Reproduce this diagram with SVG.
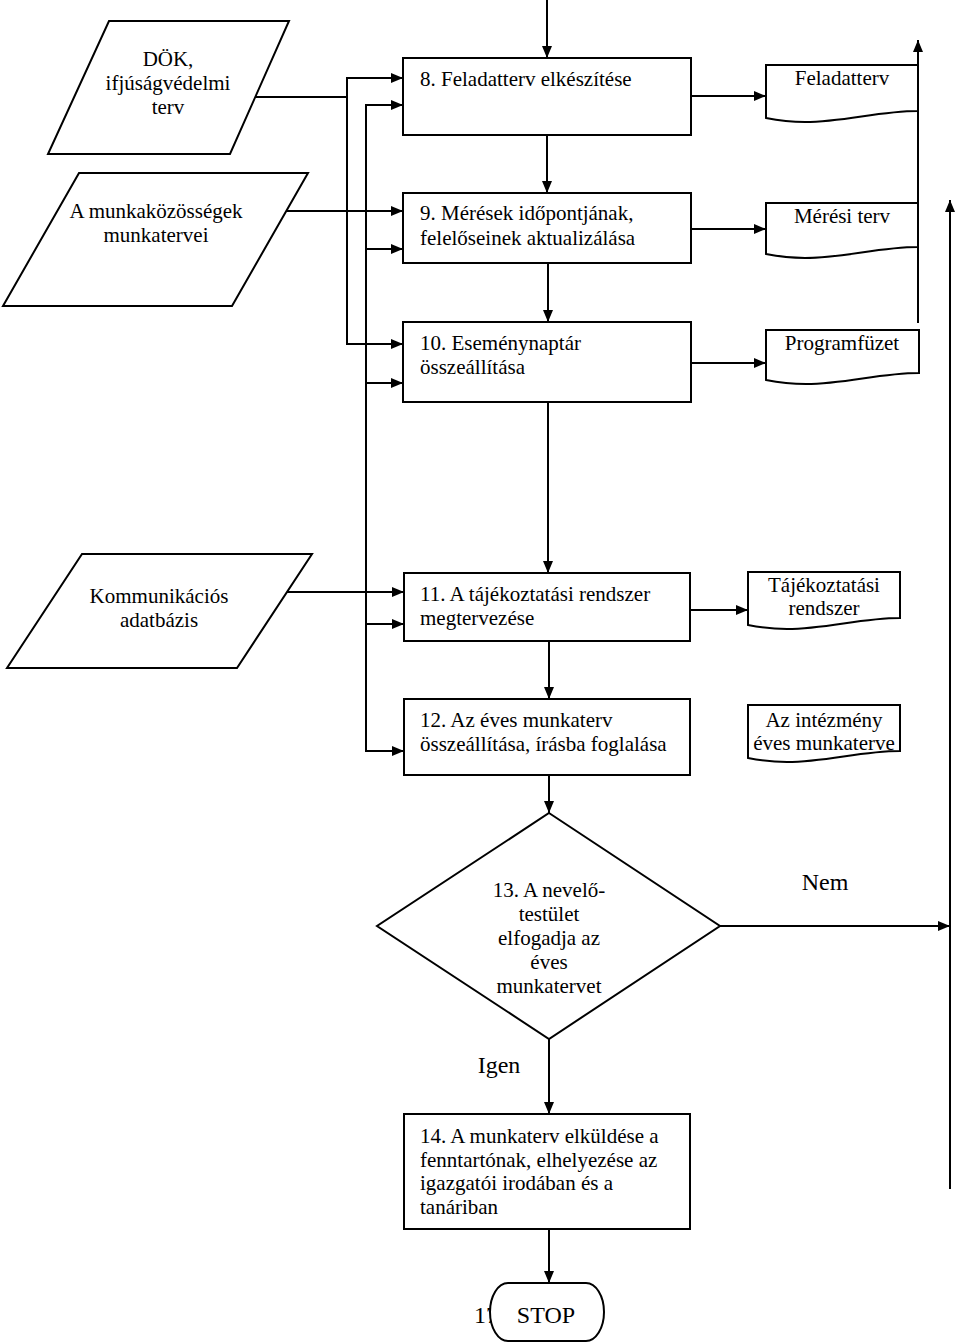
<svg xmlns="http://www.w3.org/2000/svg" width="960" height="1342" viewBox="0 0 960 1342">
<defs>
<marker id="arr" markerWidth="12" markerHeight="10" refX="12" refY="5" orient="auto" markerUnits="userSpaceOnUse"><path d="M0,0 L12,5 L0,10 z" fill="#000"/></marker>
<style>
.shape{fill:#fff;stroke:#000;stroke-width:2}
.con{fill:none;stroke:#000;stroke-width:2}
.arr{fill:none;stroke:#000;stroke-width:2;marker-end:url(#arr)}
text{font-family:"Liberation Serif","Times New Roman",serif;font-size:21px;fill:#000}
.c{text-anchor:middle}
.big{font-size:24px}
</style>
</defs>
<rect width="960" height="1342" fill="#fff"/>

<g id="connectors">
<path class="arr" d="M547,0 V58"/>
<path class="arr" d="M547,135 V193"/>
<path class="arr" d="M548,263 V322"/>
<path class="arr" d="M548,402 V573"/>
<path class="arr" d="M549,641 V699"/>
<path class="arr" d="M549,775 V813"/>
<path class="arr" d="M549,1039 V1114"/>
<path class="arr" d="M549,1229 V1283"/>
<path class="con" d="M255,97 H347"/>
<path class="arr" d="M347,344 V78 H403"/>
<path class="arr" d="M347,300 V344 H403"/>
<path class="arr" d="M366,751 V105 H403"/>
<path class="arr" d="M366,249 H403"/>
<path class="arr" d="M366,383 H403"/>
<path class="arr" d="M366,624 H404"/>
<path class="arr" d="M366,700 V751 H404"/>
<path class="arr" d="M286,211 H403"/>
<path class="arr" d="M287,592 H404"/>
<path class="arr" d="M691,96 H766"/>
<path class="arr" d="M691,229 H766"/>
<path class="arr" d="M691,363 H766"/>
<path class="arr" d="M690,610 H748"/>
<path class="arr" d="M918,323 V40"/>
<path class="arr" d="M950,1189 V200"/>
<path class="arr" d="M720,926 H950"/>
</g>

<g id="n-dok">
<polygon class="shape" points="109,21 289,21 230,154 48,154"/>
<text class="c" x="168" y="66">DÖK,</text>
<text class="c" x="168" y="90">ifjúságvédelmi</text>
<text class="c" x="168" y="114">terv</text>
</g>
<g id="n-munkakozossegek">
<polygon class="shape" points="79,173 308,173 232,306 3,306"/>
<text class="c" x="156" y="218">A munkaközösségek</text>
<text class="c" x="156" y="242">munkatervei</text>
</g>
<g id="n-kommunikacios">
<polygon class="shape" points="82,554 312,554 237,668 7,668"/>
<text class="c" x="159" y="603">Kommunikációs</text>
<text class="c" x="159" y="627">adatbázis</text>
</g>

<g id="n8">
<rect class="shape" x="403" y="58" width="288" height="77"/>
<text x="420" y="86">8. Feladatterv elkészítése</text>
</g>
<g id="n9">
<rect class="shape" x="403" y="193" width="288" height="70"/>
<text x="420" y="220">9. Mérések időpontjának,</text>
<text x="420" y="245">felelőseinek aktualizálása</text>
</g>
<g id="n10">
<rect class="shape" x="403" y="322" width="288" height="80"/>
<text x="420" y="350">10. Eseménynaptár</text>
<text x="420" y="374">összeállítása</text>
</g>
<g id="n11">
<rect class="shape" x="404" y="573" width="286" height="68"/>
<text x="420" y="601">11. A tájékoztatási rendszer</text>
<text x="420" y="625">megtervezése</text>
</g>
<g id="n12">
<rect class="shape" x="404" y="699" width="286" height="76"/>
<text x="420" y="727">12. Az éves munkaterv</text>
<text x="420" y="751">összeállítása, írásba foglalása</text>
</g>

<g id="d-feladatterv">
<path class="shape" d="M766,65 H918 V111 C878,111 845,122 805,122 C790,122 776,120 766,118 Z"/>
<text class="c" x="842" y="85">Feladatterv</text>
</g>
<g id="d-meresi">
<path class="shape" d="M766,203 H918 V247 C878,247 845,258 805,258 C790,258 776,256 766,254 Z"/>
<text class="c" x="842" y="223">Mérési terv</text>
</g>
<g id="d-programfuzet">
<path class="shape" d="M766,330 H919 V373 C879,373 846,384 806,384 C791,384 776,382 766,380 Z"/>
<text class="c" x="842" y="350">Programfüzet</text>
</g>
<g id="d-tajekoztatasi">
<path class="shape" d="M748,572 H900 V618 C860,618 827,629 787,629 C772,629 758,627 748,625 Z"/>
<text class="c" x="824" y="592">Tájékoztatási</text>
<text class="c" x="824" y="615">rendszer</text>
</g>
<g id="d-intezmeny">
<path class="shape" d="M748,705 H900 V751 C860,751 827,762 787,762 C772,762 758,760 748,758 Z"/>
<text class="c" x="824" y="727">Az intézmény</text>
<text class="c" x="824" y="750">éves munkaterve</text>
</g>

<g id="n13">
<polygon class="shape" points="549,813 720,926 549,1039 377,926"/>
<text class="c" x="549" y="897">13. A nevelő-</text>
<text class="c" x="549" y="921">testület</text>
<text class="c" x="549" y="945">elfogadja az</text>
<text class="c" x="549" y="969">éves</text>
<text class="c" x="549" y="993">munkatervet</text>
</g>
<g id="labels">
<text class="c big" x="825" y="890">Nem</text>
<text class="c big" x="499" y="1073">Igen</text>
</g>

<g id="n14">
<rect class="shape" x="404" y="1114" width="286" height="115"/>
<text x="420" y="1143">14. A munkaterv elküldése a</text>
<text x="420" y="1167">fenntartónak, elhelyezése az</text>
<text x="420" y="1190">igazgatói irodában és a</text>
<text x="420" y="1214">tanáriban</text>
</g>

<g id="stop">
<text class="big" x="474" y="1323">17</text>
<rect class="shape" x="490" y="1283" width="114" height="58" rx="18" ry="29"/>
<text class="c big" x="546" y="1323">STOP</text>
</g>
</svg>
